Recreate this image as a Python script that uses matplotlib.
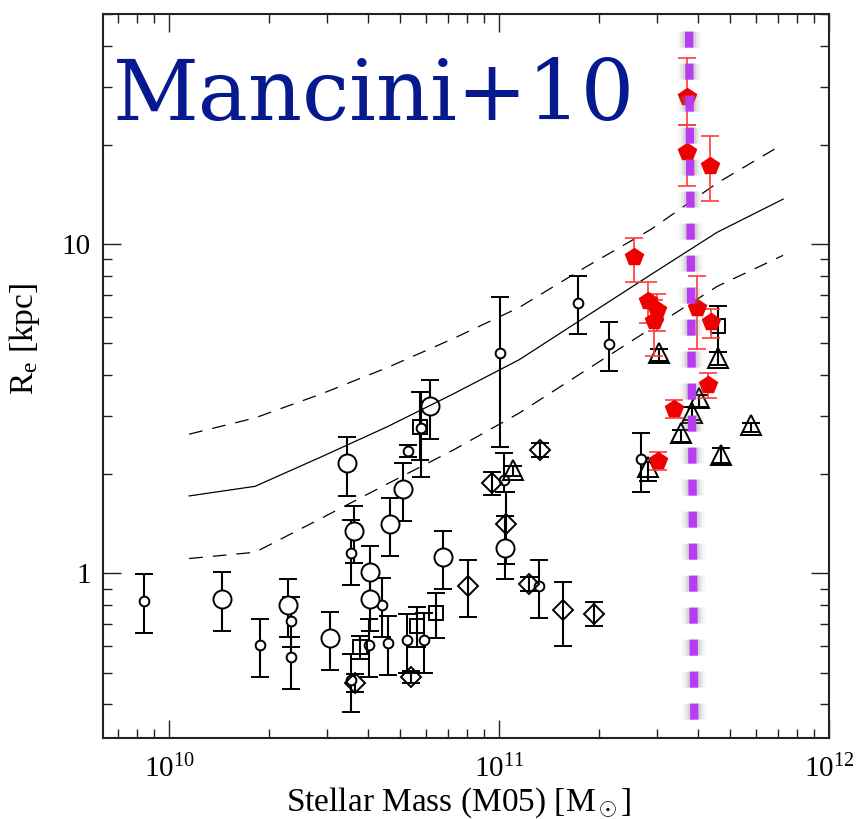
import matplotlib
matplotlib.use('Agg')
import matplotlib.pyplot as plt
import matplotlib.patheffects as pe
from matplotlib.ticker import LogLocator, NullFormatter, FixedLocator, FixedFormatter, LogFormatterMathtext
import numpy as np

plt.rcParams['font.family'] = ['Liberation Serif', 'DejaVu Serif']
plt.rcParams['mathtext.fontset'] = 'custom'
plt.rcParams['mathtext.rm'] = 'Liberation Serif'
plt.rcParams['mathtext.it'] = 'Liberation Serif:italic'
plt.rcParams['mathtext.bf'] = 'Liberation Serif:bold'

# size-mass relation of local ellipticals: median and scatter in 0.2 dex bins
model_logm = [10.06, 10.26, 10.46, 10.66, 10.86, 11.06, 11.26, 11.46, 11.66, 11.86]
model_re = [1.72, 1.84, 2.26, 2.79, 3.51, 4.46, 6.01, 8.10, 10.88, 13.72]
model_hi = [2.65, 2.97, 3.51, 4.22, 5.17, 6.43, 8.51, 11.11, 15.35, 20.18]
model_lo = [1.11, 1.16, 1.47, 1.87, 2.37, 3.07, 4.13, 5.55, 7.45, 9.26]

# literature samples: mass in 1e10 Msun, Re and its error range in kpc
sc_mass = [0.838, 1.879, 2.338, 2.338, 3.545, 4.402, 4.021, 3.545, 4.599, 5.278,
           5.790, 5.241, 5.913, 10.05, 10.30, 13.22, 17.29, 21.50, 26.83]
sc_re = [0.823, 0.605, 0.715, 0.556, 1.153, 0.804, 0.605, 0.475, 0.616, 2.355,
         2.767, 0.626, 0.626, 4.676, 1.921, 0.915, 6.655, 4.981, 2.222]
sc_lo = [0.661, 0.485, 0.599, 0.444, 0.924, 0.643, 0.485, 0.380, 0.491, 2.258,
         1.962, 0.499, 0.500, 2.427, 1.766, 0.731, 5.335, 4.129, 1.770]
sc_hi = [0.993, 0.729, 0.851, 0.643, 1.451, 0.968, 0.729, 0.570, 0.740, 2.456,
         3.571, 0.755, 0.760, 6.940, 2.322, 1.095, 8.007, 5.797, 2.667]

lc_mass = [1.444, 2.294, 3.069, 3.455, 3.628, 4.058, 4.058, 4.665, 5.108, 6.152, 6.739, 10.43]
lc_re = [0.839, 0.804, 0.638, 2.164, 1.343, 1.009, 0.839, 1.411, 1.807, 3.229, 1.121, 1.194]
lc_lo = [0.670, 0.643, 0.510, 1.721, 1.073, 0.839, 0.670, 1.127, 1.443, 2.567, 0.894, 0.959]
lc_hi = [1.007, 0.963, 0.766, 2.598, 1.608, 1.209, 1.007, 1.693, 2.169, 3.876, 1.343, 1.492]

sq_mass = [3.784, 5.750, 5.619, 6.431, 45.91]
sq_re = [0.596, 2.793, 0.694, 0.757, 5.636]
sq_lo = [0.549, 2.211, 0.596, 0.635, 4.718]
sq_hi = [0.644, 3.563, 0.793, 0.875, 6.516]

dm_mass = [3.653, 5.401, 8.055, 9.524, 10.48, 13.29, 12.33, 15.56, 19.32]
dm_re = [0.466, 0.486, 0.913, 1.885, 1.411, 2.371, 0.926, 0.777, 0.754]
dm_lo = [0.437, 0.466, 0.736, 1.729, 1.065, 2.253, 0.883, 0.603, 0.694]
dm_hi = [0.495, 0.506, 1.095, 2.036, 1.766, 2.496, 0.974, 0.945, 0.818]

tr_mass = [11.03, 30.47, 45.91, 40.37, 38.28, 35.53, 57.89, 46.97, 28.28]
tr_re = [2.057, 4.676, 4.515, 3.409, 3.069, 2.667, 2.826, 2.290, 2.109]
tr_lo = [1.975, 4.429, 4.285, 3.214, 2.928, 2.513, 2.697, 2.169, 1.908]
tr_hi = [2.120, 4.808, 4.709, 3.489, 3.208, 2.729, 2.860, 2.405, 2.180]

# Mancini et al. 2010
mc_mass = [25.65, 36.98, 36.98, 43.50, 28.17, 30.11, 29.49, 39.65, 43.71, 42.81, 33.91, 30.20]
mc_re = [9.129, 28.02, 19.04, 17.33, 6.716, 6.305, 5.837, 6.412, 5.812, 3.743, 3.162, 2.200]
mc_lo = [7.695, 23.11, 15.06, 13.50, 5.783, 5.467, 4.588, 4.808, 5.194, 3.409, 2.962, 2.061]
mc_hi = [10.43, 36.84, 23.11, 21.30, 7.711, 7.089, 6.797, 8.007, 6.381, 4.063, 3.368, 2.333]

# mass cut marker (top to bottom)
cut_mass = [37.6, 39.0]
cut_re = [44.3, 0.351]


def points(ax, mass, re, lo, hi, **kw):
    m = np.array(mass) * 1e10
    r = np.array(re)
    yerr = [r - np.array(lo), np.array(hi) - r]
    return ax.errorbar(m, r, yerr=yerr, ls='none', **kw)


fig = plt.figure(figsize=(8.59, 8.19), dpi=100)
ax = fig.add_axes([0.1203, 0.0989, 0.8451, 0.8840])
ax.set_xscale('log')
ax.set_yscale('log')
ax.set_xlim(10**9.8, 1e12)
ax.set_ylim(10**-0.5, 10**1.7)

# model median and +/- scatter
mm = 10**np.array(model_logm)
ax.plot(mm, model_re, color='black', lw=0.9, zorder=4)
ax.plot(mm, model_hi, color='black', lw=0.9, ls=(0, (11, 8)), zorder=4)
ax.plot(mm, model_lo, color='black', lw=0.9, ls=(0, (11, 8)), zorder=4)

blk = dict(color='black', ecolor='black', elinewidth=1.5, capsize=6.5, capthick=1.5, mew=1.4)
points(ax, sc_mass, sc_re, sc_lo, sc_hi, fmt='o', ms=7, mfc='white', **blk)
points(ax, lc_mass, lc_re, lc_lo, lc_hi, fmt='o', ms=13, mfc='white', **blk)
points(ax, sq_mass, sq_re, sq_lo, sq_hi, fmt='s', ms=10.5, mfc='none', **blk)
points(ax, dm_mass, dm_re, dm_lo, dm_hi, fmt='D', ms=10.5, mfc='none', **blk)
points(ax, tr_mass, tr_re, tr_lo, tr_hi, fmt='^', ms=14, mfc='none', **blk)
points(ax, mc_mass, mc_re, mc_lo, mc_hi, fmt='p', ms=13, color='#ee0000', mec='#ee0000',
       ecolor='#ff3b3b', elinewidth=1.2, capsize=6.5, capthick=1.2, zorder=5)

glow = [pe.Stroke(linewidth=17, foreground='#888888', alpha=0.07),
        pe.Stroke(linewidth=13, foreground='#888888', alpha=0.12),
        pe.Stroke(linewidth=9.5, foreground='#888888', alpha=0.2),
        pe.Normal()]
ax.plot(np.array(cut_mass) * 1e10, cut_re, color='#b93cf2', lw=6,
        ls=(0, (1.92, 1.92)), solid_capstyle='butt', dash_capstyle='butt',
        path_effects=glow, zorder=6)

ax.text(0.0134, 0.854, 'Mancini+10', transform=ax.transAxes, fontsize=60.5,
        color='#07198f', family='DejaVu Serif', va='baseline', ha='left', zorder=7)

ax.xaxis.set_major_locator(LogLocator(base=10, numticks=10))
ax.xaxis.set_major_formatter(LogFormatterMathtext())
ax.xaxis.set_minor_locator(LogLocator(base=10, subs=np.arange(2, 10), numticks=20))
ax.xaxis.set_minor_formatter(NullFormatter())
ax.yaxis.set_major_locator(FixedLocator([1, 10]))
ax.yaxis.set_major_formatter(FixedFormatter(['1', '10']))
ax.yaxis.set_minor_locator(LogLocator(base=10, subs=np.arange(2, 10), numticks=20))
ax.yaxis.set_minor_formatter(NullFormatter())

ax.tick_params(which='both', direction='in', top=True, right=True, width=1.0, color='#222222')
ax.tick_params(which='major', length=13, labelsize=21)
ax.tick_params(which='minor', length=6.5)
ax.tick_params(axis='x', which='major', pad=12)
ax.tick_params(axis='y', which='major', pad=9)
for s in ax.spines.values():
    s.set_linewidth(1.5)
    s.set_color('#222222')

ax.set_xlabel(r'Stellar Mass (M05) [M$_\odot$]', fontsize=24)
ax.set_ylabel(r'R$_{\rm e}$ [kpc]', fontsize=24)
ax.xaxis.set_label_coords(0.49, -0.066)
ax.yaxis.set_label_coords(-0.084, 0.551)

fig.savefig('out.png', dpi=100)
